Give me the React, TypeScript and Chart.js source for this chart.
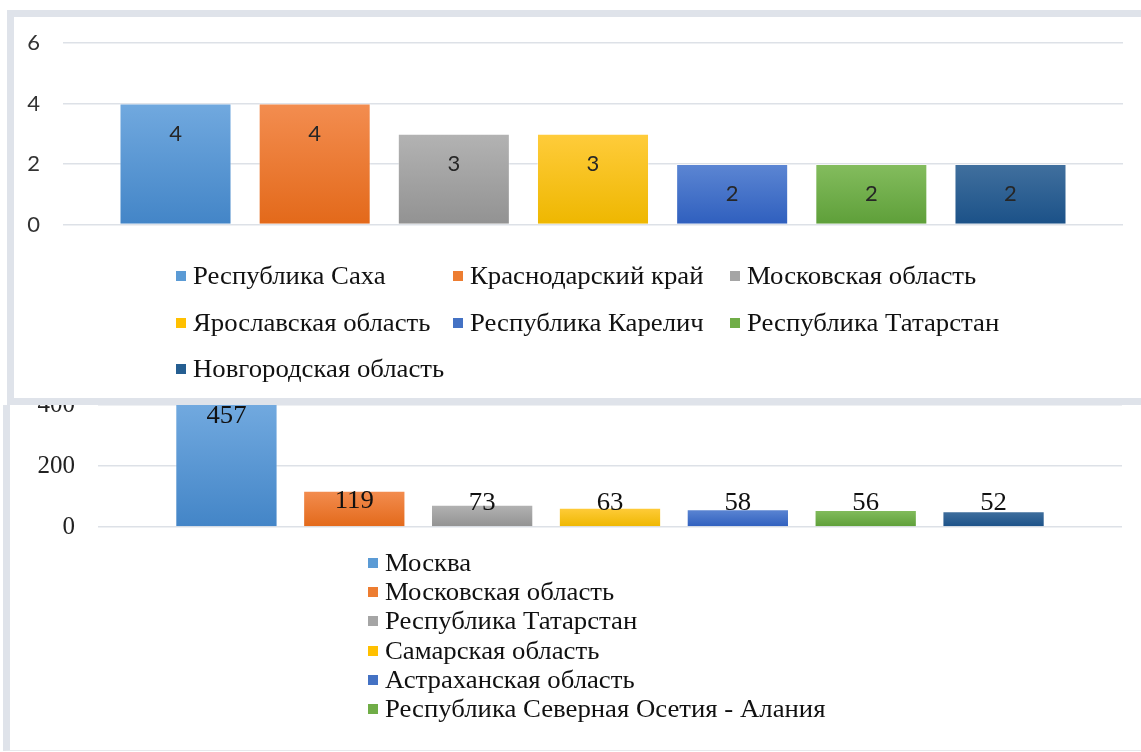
import { useEffect, useRef } from 'react';
import { Chart, registerables } from 'chart.js';

Chart.register(...registerables);

// ---- data: top chart ----
const topSeries = [
  'Республика Саха',
  'Краснодарский край',
  'Московская область',
  'Ярославская область',
  'Республика Карелич',
  'Республика Татарстан',
  'Новгородская область',
];
const topValues = [4, 4, 3, 3, 2, 2, 2];
const topTicks = [0, 2, 4, 6];

// ---- data: bottom chart (7th series name is cut off in the picture) ----
const bottomSeries = [
  'Москва',
  'Московская область',
  'Республика Татарстан',
  'Самарская область',
  'Астраханская область',
  'Республика Северная Осетия - Алания',
  '',
];
const bottomValues = [457, 119, 73, 63, 58, 56, 52];
const bottomTicks = [0, 200, 400];

// ---- colours ----
const solidColors = ['#5b9bd5', '#ed7d31', '#a5a5a5', '#ffc000', '#4472c4', '#70ad47', '#255e91'];
const lightColors = ['#71a9df', '#f38d50', '#b3b3b3', '#ffcc3b', '#5c86d3', '#84bd5e', '#41709e'];
const darkColors = ['#4385c7', '#e3691a', '#929292', '#eeb700', '#2f5fbe', '#5e9f39', '#1b5188'];

function barFill(i: number) {
  return (c: any) => {
    const ch = c.chart;
    const ys = ch.scales && ch.scales.y;
    const area = ch.chartArea;
    if (!ys || !area || c.raw == null) return solidColors[i];
    const top = Math.max(ys.getPixelForValue(c.raw), area.top);
    const base = ys.getPixelForValue(0);
    if (!isFinite(top) || !isFinite(base) || base - top < 1) return solidColors[i];
    const g = ch.ctx.createLinearGradient(0, top, 0, base);
    g.addColorStop(0, lightColors[i]);
    g.addColorStop(1, darkColors[i]);
    return g;
  };
}

function labelPlugin(font: string, color: string, mode: 'top' | 'bottom', stretch: number) {
  return {
    id: 'valueLabels',
    afterDatasetsDraw(chart: any) {
      const { ctx, chartArea } = chart;
      ctx.save();
      ctx.font = font;
      ctx.fillStyle = color;
      ctx.textAlign = 'center';
      ctx.textBaseline = 'middle';
      chart.data.datasets.forEach((ds: any, i: number) => {
        const meta = chart.getDatasetMeta(i);
        meta.data.forEach((el: any, j: number) => {
          const v = ds.data[j];
          const top = Math.max(el.y, chartArea.top);
          const y = mode === 'top' ? top + 30 : Math.min(top + 11, el.base - 23);
          ctx.save();
          ctx.translate(el.x, y);
          ctx.scale(stretch, 1);
          ctx.fillText(String(v), 0, 0);
          ctx.restore();
        });
      });
      ctx.restore();
    },
  };
}

const W = 1141;
const H = 752;

function useBarChart(
  ref: React.RefObject<HTMLCanvasElement | null>,
  names: string[],
  values: number[],
  ticks: number[],
  opts: any
) {
  useEffect(() => {
    if (!ref.current) return;
    const chart = new Chart(ref.current, {
      type: 'bar',
      data: {
        labels: [''],
        datasets: values.map((v, i) => ({
          label: names[i],
          data: [v],
          backgroundColor: barFill(i),
          borderColor: 'rgba(255,255,255,0.35)',
          borderWidth: 1,
          clip: 0,
        })),
      },
      options: {
        animation: false,
        responsive: false,
        maintainAspectRatio: false,
        layout: { padding: opts.padding },
        events: [],
        plugins: { legend: { display: false }, tooltip: { enabled: false } },
        datasets: {
          bar: { categoryPercentage: opts.catPct, barPercentage: opts.barPct },
        },
        scales: {
          x: { display: false },
          y: {
            min: ticks[0],
            max: ticks[ticks.length - 1],
            afterBuildTicks: (s: any) => {
              s.ticks = ticks.map((t) => ({ value: t }));
            },
            afterFit: (s: any) => {
              s.width = opts.axisWidth;
            },
            grid: { color: '#dde1e7', lineWidth: 1.5, drawTicks: false },
            border: { display: false },
            ticks: {
              padding: 23,
              color: opts.tickColor,
              font: opts.tickFont,
            },
          },
        },
      } as any,
      plugins: [opts.labels],
    });
    return () => chart.destroy();
  }, []);
}

function Legend({
  names,
  positions,
}: {
  names: string[];
  positions: { x: number; y: number }[];
}) {
  return (
    <>
      {names.map((n, i) =>
        n && positions[i] ? (
          <div
            key={i}
            style={{
              position: 'absolute',
              left: positions[i].x,
              top: positions[i].y - 15,
              height: 30,
              display: 'flex',
              alignItems: 'center',
              whiteSpace: 'nowrap',
              fontFamily: '"Liberation Serif", "DejaVu Serif", serif',
              fontSize: 25,
              color: '#111',
            }}
          >
            <span
              style={{
                display: 'inline-block',
                width: 10,
                height: 10,
                background: solidColors[i],
                marginRight: 7,
              }}
            />
            <span style={{ display: 'inline-block', transform: 'scaleX(1.07)', transformOrigin: 'left center' }}>
              {n}
            </span>
          </div>
        ) : null
      )}
    </>
  );
}

export default function App() {
  const topRef = useRef<HTMLCanvasElement | null>(null);
  const bottomRef = useRef<HTMLCanvasElement | null>(null);

  useBarChart(bottomRef, bottomSeries, bottomValues, bottomTicks, {
    padding: { left: 0, right: W - 1122, top: 405, bottom: H - 527 },
    catPct: 0.874,
    barPct: 0.8,
    axisWidth: 98,
    tickColor: '#222',
    tickFont: { family: '"Liberation Serif", serif', size: 25 },
    labels: labelPlugin('25px "Liberation Serif", serif', '#111', 'bottom', 1.07),
  });

  useBarChart(topRef, topSeries, topValues, topTicks, {
    padding: { left: 0, right: W - 1123, top: 43, bottom: H - 224.5 },
    catPct: 0.919,
    barPct: 0.805,
    axisWidth: 63,
    tickColor: '#333',
    tickFont: { family: 'Lato, "Open Sans", sans-serif', size: 22 },
    labels: labelPlugin('22px Lato, "Open Sans", sans-serif', '#262626', 'top', 1),
  });

  const topCols = [176, 453, 730];
  const topRows = [276, 323, 369];
  const topPos = topSeries.map((_, i) => ({ x: topCols[i % 3], y: topRows[Math.floor(i / 3)] }));
  const bottomPos = bottomSeries.map((_, i) => ({ x: 368, y: 563 + i * 29.2 }));

  return (
    <div
      style={{
        position: 'fixed',
        left: 0,
        top: 0,
        width: W,
        height: H,
        overflow: 'hidden',
        background: '#fff',
      }}
    >
      {/* bottom panel frame */}
      <div
        style={{
          position: 'absolute',
          left: 3,
          top: 405,
          width: 1180,
          height: 346,
          boxSizing: 'border-box',
          borderLeft: '7px solid #dfe3ea',
          borderBottom: '1px solid #e6e8ec',
          background: '#fff',
        }}
      />
      <canvas
        ref={bottomRef}
        width={W}
        height={H}
        style={{ position: 'absolute', left: 0, top: 0, width: W, height: H }}
      />
      <Legend names={bottomSeries} positions={bottomPos} />

      {/* top panel frame */}
      <div
        style={{
          position: 'absolute',
          left: 7,
          top: 10,
          width: 1180,
          height: 395,
          boxSizing: 'border-box',
          border: '7px solid #dfe3ea',
          background: '#fff',
        }}
      />
      <canvas
        ref={topRef}
        width={W}
        height={H}
        style={{ position: 'absolute', left: 0, top: 0, width: W, height: H, pointerEvents: 'none' }}
      />
      <Legend names={topSeries} positions={topPos} />
    </div>
  );
}
